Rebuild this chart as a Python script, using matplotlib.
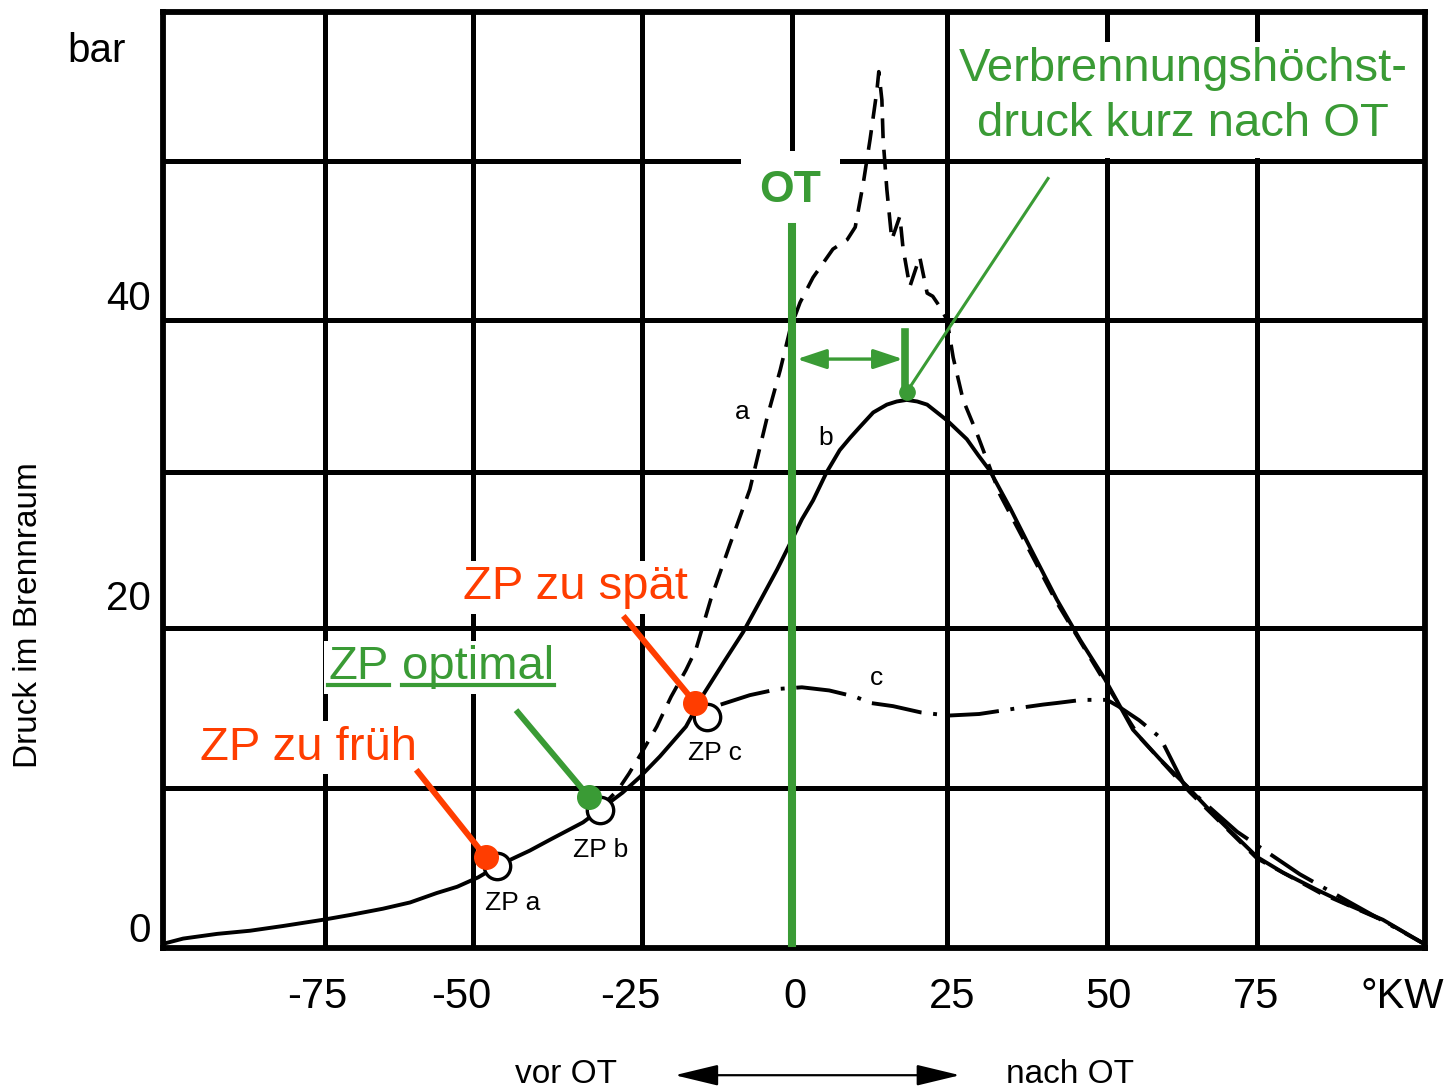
import matplotlib.pyplot as plt
from matplotlib.lines import Line2D

plt.rcParams['font.family'] = ['Liberation Sans', 'DejaVu Sans']

GREEN = '#3a9b35'
RED = '#ff3d00'

# curve b: ignition optimal (crank angle in °KW, pressure in bar)
kw_b = [-101.1, -98.2, -92.7, -87.4, -82.1, -75.6, -71.3, -66.0, -61.6, -57.3, -54.0, -50.6,
        -47.6, -45.0, -42.3, -39.0, -33.7, -31.0, -27.3, -24.5, -21.3, -17.1, -14.2, -11.0,
        -7.9, -5.0, -2.4, 0.0, 1.6, 3.4, 5.6, 7.7, 9.4, 11.0, 13.1, 15.3, 16.9, 18.5, 20.2,
        21.8, 23.4, 25.0, 26.6, 28.2, 30.0, 31.9, 35.2, 38.4, 42.7, 46.5, 50.5, 55.0, 59.4,
        63.7, 68.5, 75.0, 79.2, 84.7, 90.0, 95.3, 101.8]
p_b = [0.3, 0.6, 0.9, 1.1, 1.4, 1.8, 2.1, 2.5, 2.9, 3.5, 3.9, 4.5,
       5.2, 5.7, 6.2, 6.9, 8.0, 8.8, 9.9, 10.9, 12.2, 14.1, 16.2, 18.2,
       20.1, 22.2, 24.1, 26.0, 27.3, 28.5, 30.3, 31.7, 32.5, 33.2, 34.1, 34.6, 34.8, 34.9, 34.8,
       34.6, 34.1, 33.6, 33.0, 32.4, 31.4, 30.4, 28.0, 25.5, 22.2, 19.6, 17.1, 13.9, 12.0,
       10.3, 8.3, 5.8, 4.8, 3.7, 2.7, 1.8, 0.3]

# curve a: ignition too early
kw_a = [-31.0, -28.0, -26.3, -24.0, -21.8, -19.5, -17.1, -15.5, -13.1, -11.6, -10.0, -6.8,
        -4.0, -1.9, -0.3, 1.3, 3.4, 6.6, 8.9, 10.2, 11.5, 12.6, 13.7, 14.0, 14.5, 14.7, 15.3,
        16.1, 17.4, 17.9, 19.0, 20.6, 21.8, 22.7, 23.9, 25.0, 26.0, 27.6, 29.8, 31.9, 33.5,
        42.7, 50.5, 56.1, 64.2, 75.0, 85.2, 95.6, 101.8]
p_a = [8.9, 10.1, 11.1, 12.6, 14.1, 16.0, 17.7, 19.0, 22.2, 23.9, 25.7, 29.2,
       33.8, 36.8, 39.4, 41.1, 42.7, 44.5, 45.1, 45.9, 48.7, 51.5, 54.6, 55.8, 54.0, 51.5, 48.3,
       45.1, 46.6, 44.6, 42.1, 44.0, 41.7, 41.5, 40.8, 40.0, 37.6, 34.9, 32.8, 30.6, 28.9,
       22.0, 16.9, 13.4, 9.9, 5.7, 3.5, 1.7, 0.3]

# curve c: ignition too late
kw_c = [-11.5, -6.8, -2.1, 1.6, 6.0, 10.2, 12.7, 16.3, 20.8, 25.2, 30.2, 36.9, 40.5,
        42.7, 46.8, 50.8, 52.6, 56.0, 59.4, 63.1, 65.8, 71.8, 81.9, 90.0, 101.8]
p_c = [15.5, 16.1, 16.5, 16.6, 16.4, 16.0, 15.6, 15.4, 15.0, 14.8, 14.9, 15.3, 15.5,
       15.6, 15.8, 15.8, 15.4, 14.5, 13.4, 10.5, 9.5, 7.4, 4.7, 2.9, 0.3]

# ignition points (open circles) and highlighted dots
zp_kw = [-47.6, -31.0, -13.7]
zp_p = [5.2, 8.8, 14.7]
dot_kw = [-49.4, -32.7, -15.6]
dot_p = [5.8, 9.6, 15.6]
dot_col = [RED, GREEN, RED]

peak_kw, peak_p = 18.5, 35.4

grid_kw = [-75.3, -51.5, -24.2, 0.0, 25.0, 50.8, 75.0]
grid_p = [10.2, 20.4, 30.3, 40.0, 50.1]
xlab_pos = [-76.6, -53.4, -26.0, 0.5, 25.8, 51.1, 74.8, 98.4]
xlab_txt = ['-75', '-50', '-25', '0', '25', '50', '75', '°KW']
ylab_pos = [0.4, 21.5, 40.6]
ylab_txt = ['0', '20', '40']

fig = plt.figure(figsize=(14.55, 10.91), dpi=100)
ax = fig.add_axes([163 / 1455, 143 / 1091, 1262 / 1455, 936 / 1091])
ax.set_xlim(-101.45, 102.1)
ax.set_ylim(0, 59.6)

ax.set_xticks(grid_kw)
ax.set_yticks(grid_p)
ax.set_xticklabels([])
ax.set_yticklabels([])
ax.tick_params(length=0)
ax.grid(True, color='black', lw=3.6, zorder=0)
ax.set_axisbelow(True)
for s in ax.spines.values():
    s.set_linewidth(4.2)

# curves
ax.plot(kw_b, p_b, color='black', lw=2.8, zorder=3, solid_joinstyle='round')
ax.plot(kw_a, p_a, color='black', lw=2.6, ls=(0, (5.5, 3.2)), zorder=3)
ax.plot(kw_c, p_c, color='black', lw=2.8, ls=(0, (13, 3, 1, 3)), zorder=3)

ax.plot(zp_kw, zp_p, 'o', ms=19, mfc='white', mec='black', mew=2.4, zorder=4)
for x, y, c in zip(dot_kw, dot_p, dot_col):
    ax.plot(x, y, 'o', ms=17, color=c, zorder=6)

# OT line and peak marking
ax.plot([0, 0], [0.3, 45.9], color=GREEN, lw=5.8, zorder=5)
ax.plot([18.2, 18.2], [35.4, 39.2], color=GREEN, lw=5.5, zorder=5)
ax.plot(peak_kw, peak_p, 'o', ms=11, color=GREEN, zorder=6)
ax.annotate('', xy=(0.8, 37.5), xytext=(17.9, 37.5),
            arrowprops=dict(arrowstyle='<|-|>,head_length=1.8,head_width=0.6',
                            color=GREEN, lw=2.4, shrinkA=0, shrinkB=0, mutation_scale=10),
            zorder=5)

# leader lines
ax.plot([-60.3, dot_kw[0]], [11.2, dot_p[0]], color=RED, lw=4.3, zorder=5)
ax.plot([-44.2, dot_kw[1]], [15.0, dot_p[1]], color=GREEN, lw=4.3, zorder=5)
ax.plot([-26.9, dot_kw[2]], [21.0, dot_p[2]], color=RED, lw=4.3, zorder=5)
ax.plot([41.3, peak_kw], [49.0, peak_p], color=GREEN, lw=2.2, zorder=5)

# small curve labels
small = dict(fontsize=19, color='black', zorder=6)
ax.text(-45.0, 2.4, 'ZP a', ha='center', va='baseline', **small)
ax.text(-30.8, 5.8, 'ZP b', ha='center', va='baseline', **small)
ax.text(-12.4, 12.0, 'ZP c', ha='center', va='baseline', **small)
ax.text(-8.1, 34.1, 'a', ha='center', va='center', **small)
ax.text(5.5, 32.5, 'b', ha='center', va='center', **small)
ax.text(13.7, 17.2, 'c', ha='center', va='center', **small)

# annotation texts with white boxes
wbox = dict(boxstyle='square,pad=0.1', fc='white', ec='none')
wbox2 = dict(boxstyle='square,pad=0.25', fc='white', ec='none')
big = 34
ax.text(-0.3, 47.5, 'OT', ha='center', va='baseline', fontsize=32, fontweight='bold',
        color=GREEN, zorder=4, bbox=dict(boxstyle='square,pad=0.42', fc='white', ec='none'))
ax.text(63.1, 55.2, 'Verbrennungshöchst-', ha='center', va='baseline', fontsize=big,
        color=GREEN, zorder=5, bbox=wbox)
ax.text(63.1, 51.7, 'druck kurz nach OT', ha='center', va='baseline', fontsize=big,
        color=GREEN, zorder=4, bbox=wbox2)
ax.text(-53.1, 22.2, 'ZP zu spät', ha='left', va='baseline', fontsize=big,
        color=RED, zorder=4, bbox=wbox)
t_zp = ax.text(-74.8, 17.1, 'ZP', ha='left', va='baseline', fontsize=big,
               color=GREEN, zorder=4, bbox=wbox)
t_opt = ax.text(-62.9, 17.1, 'optimal', ha='left', va='baseline', fontsize=big,
                color=GREEN, zorder=4, bbox=wbox)
ax.text(-95.5, 12.0, 'ZP zu früh', ha='left', va='baseline', fontsize=big,
        color=RED, zorder=4, bbox=wbox)

# axis texts
for x, s in zip(xlab_pos, xlab_txt):
    ax.text(x, -3.8, s, ha='center', va='baseline', fontsize=30)
for y, s in zip(ylab_pos, ylab_txt):
    ax.text(-103.4, y, s, ha='right', va='baseline', fontsize=29)
ax.text(-112.1, 56.4, 'bar', ha='center', va='baseline', fontsize=29)
ax.text(-123.2, 21.2, 'Druck im Brennraum', ha='center', va='center', rotation=90, fontsize=24)

ax.text(-36.5, -8.6, 'vor OT', ha='center', va='baseline', fontsize=24)
ax.text(44.8, -8.6, 'nach OT', ha='center', va='baseline', fontsize=24)
ax.annotate('', xy=(-18.9, -8.1), xytext=(27.1, -8.1), annotation_clip=False,
            arrowprops=dict(arrowstyle='<|-|>,head_length=2.7,head_width=0.65',
                            color='black', lw=1.6, shrinkA=0, shrinkB=0, mutation_scale=10))

# underline "ZP" and "optimal"
fig.canvas.draw()
rend = fig.canvas.get_renderer()
base_y = ax.transData.transform((0, 17.1))[1] - 6
for t in (t_zp, t_opt):
    bb = t.get_window_extent(rend)
    p0 = fig.transFigure.inverted().transform((bb.x0, base_y))
    p1 = fig.transFigure.inverted().transform((bb.x1, base_y))
    fig.add_artist(Line2D([p0[0], p1[0]], [p0[1], p1[1]], color=GREEN, lw=3,
                          transform=fig.transFigure, zorder=7))

fig.savefig('out.png', dpi=100)
